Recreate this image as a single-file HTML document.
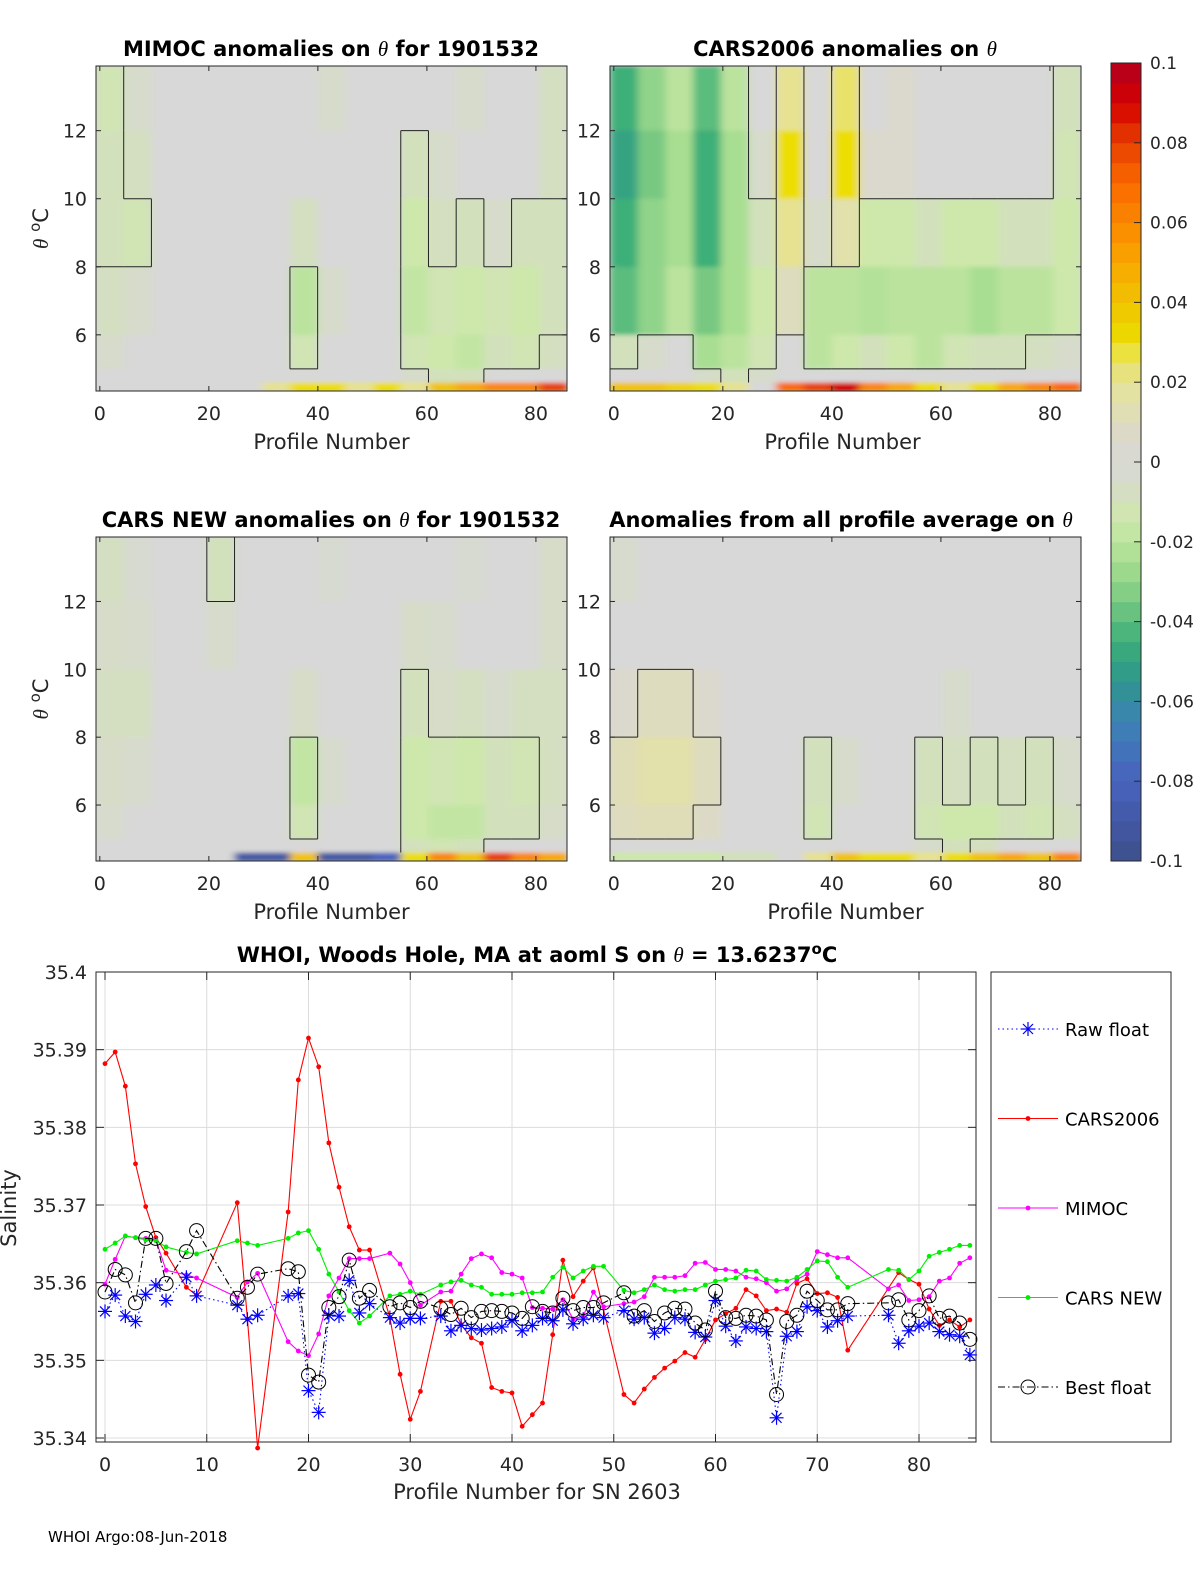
<!DOCTYPE html>
<html><head><meta charset="utf-8">
<style>
html,body{margin:0;padding:0;background:#fff;}
svg{display:block;font-family:"DejaVu Sans","Liberation Sans",sans-serif;}
.t{font-weight:bold;font-size:21px;fill:#000;}
.tk{font-size:19px;fill:#262626;}
.lb{font-size:21px;fill:#262626;}
</style></head>
<body>
<svg id="root" width="1200" height="1575" viewBox="0 0 1200 1575" xmlns="http://www.w3.org/2000/svg">
<defs>
<filter id="blur" x="0" y="0" width="1" height="1"><feGaussianBlur stdDeviation="4 2"/></filter>
<clipPath id="cTL"><rect x="96" y="66" width="471" height="325"/></clipPath>
<clipPath id="cTR"><rect x="610" y="66" width="471" height="325"/></clipPath>
<clipPath id="cBL"><rect x="96" y="537" width="471" height="324"/></clipPath>
<clipPath id="cBR"><rect x="610" y="537" width="471" height="324"/></clipPath>
</defs>
<g id="panels"></g>
<g id="cbar"></g>
<g id="line-chart"></g>
<text x="48" y="1542" font-size="15" fill="#000">WHOI Argo:08-Jun-2018</text>
</svg>
<script>
// ---------- heatmap data (anomaly per 5-profile column x theta band) ----------
const thetaEdges = [13.9, 12, 10, 8, 6, 5, 4.6, 4.35];
const colCount = 17;
const gridTL = [
 [-0.012,-0.005,0,0,0,0,0,0,-0.005,0,0,0,0,-0.005,0,0,-0.008],
 [-0.01,-0.008,0,0,0,0,0,0,0,0,0,-0.01,-0.005,0,0,0,-0.008],
 [-0.01,-0.012,0,0,0,0,0,-0.008,0,0,0,-0.015,-0.008,-0.01,-0.005,-0.01,-0.01],
 [-0.008,-0.005,0,0,0,0,0,-0.02,-0.005,0,0,-0.018,-0.012,-0.015,-0.012,-0.015,-0.01],
 [-0.005,0,0,0,0,0,0,-0.012,0,0,0,-0.012,-0.015,-0.018,-0.01,-0.012,-0.008],
 [0,0,0,0,0,0,0,0,0,0,0,-0.005,-0.01,-0.01,0,0,0],
 [0,0,0,0,0,0,0.02,0.03,0.03,0.02,0.03,0.02,0.04,0.05,0.06,0.06,0.08]
];
const gridTR = [
 [-0.045,-0.03,-0.02,-0.04,-0.02,0,0.02,0,0.025,0,0.005,0,0,0,0,0,-0.01],
 [-0.05,-0.035,-0.025,-0.045,-0.025,-0.005,0.03,0,0.03,0.005,0.005,0,0,0,0,0,-0.012],
 [-0.045,-0.03,-0.025,-0.045,-0.025,-0.01,0.02,-0.005,0.015,-0.015,-0.015,-0.01,-0.015,-0.015,-0.01,-0.01,-0.015],
 [-0.04,-0.03,-0.02,-0.035,-0.025,-0.015,0.01,-0.02,-0.02,-0.022,-0.02,-0.02,-0.02,-0.025,-0.02,-0.02,-0.015],
 [-0.01,-0.005,0,-0.025,-0.02,-0.012,0,-0.02,-0.015,-0.01,-0.015,-0.02,-0.012,-0.01,-0.01,-0.008,-0.005],
 [0,0,0,-0.005,-0.01,-0.005,0,0,0,0,0,0,0,0,0,0,0],
 [0.04,0.04,0.035,0.03,0.02,0,0.07,0.08,0.09,0.06,0.05,0.03,0.02,0.03,0.05,0.06,0.07]
];
const gridBL = [
 [-0.008,-0.003,0,0,-0.01,0,0,0,-0.003,0,0,0,0,-0.003,0,0,-0.006],
 [-0.006,-0.005,0,0,-0.005,0,0,0,0,0,0,-0.006,-0.004,0,0,0,-0.006],
 [-0.008,-0.008,0,0,0,0,0,-0.006,0,0,0,-0.01,-0.006,-0.008,-0.004,-0.008,-0.008],
 [-0.006,-0.004,0,0,0,0,0,-0.018,-0.004,0,0,-0.015,-0.012,-0.015,-0.01,-0.012,-0.008],
 [-0.004,0,0,0,0,0,0,-0.012,0,0,0,-0.015,-0.018,-0.018,-0.01,-0.01,-0.006],
 [0,0,0,0,0,0,0,0,0,0,0,-0.01,-0.012,-0.01,0,0,0],
 [0,0,0,0,0,-0.09,-0.09,0.04,-0.09,-0.09,-0.08,0.03,0.06,0.04,0.08,0.06,0.05]
];
const gridBR = [
 [-0.004,0,0,0,0,0,0,0,0,0,0,0,0,0,0,0,0],
 [0,0,0,0,0,0,0,0,0,0,0,0,0,0,0,0,0],
 [0.005,0.01,0.01,0.005,0,0,0,0,0,0,0,0,-0.005,0,0,0,0],
 [0.012,0.015,0.015,0.01,0,0,0,-0.01,-0.005,0,0,-0.01,-0.008,-0.01,-0.008,-0.01,-0.005],
 [0.01,0.012,0.012,0.008,0,0,0,-0.012,0,0,0,-0.012,-0.015,-0.015,-0.01,-0.012,-0.008],
 [0,0,0,0,0,0,0,0,0,0,0,-0.005,-0.01,-0.008,0,0,0],
 [-0.015,-0.015,-0.015,-0.015,-0.01,-0.01,0,0.02,0.04,0.03,0.03,0.02,0.03,0.04,0.05,0.04,0.06]
];
const cbarTicks = [-0.1,-0.08,-0.06,-0.04,-0.02,0,0.02,0.04,0.06,0.08,0.1];
const cbarLabels = ["-0.1","-0.08","-0.06","-0.04","-0.02","0","0.02","0.04","0.06","0.08","0.1"];
const panelXTicks = [0,20,40,60,80];
const panelYTicks = [6,8,10,12];

// ---------- line chart data ----------
const profiles = [0,1,2,3,4,5,6,8,9,13,14,15,18,19,20,21,22,23,24,25,26,28,29,30,31,33,34,35,36,37,38,39,40,41,42,43,44,45,46,47,48,49,51,52,53,54,55,56,57,58,59,60,61,62,63,64,65,66,67,68,69,70,71,72,73,77,78,79,80,81,82,83,84,85];
const cars2006 = [35.3882,35.3897,35.3853,35.3753,35.3698,35.3658,35.3638,35.3594,35.3584,35.3703,35.3553,35.3387,35.3691,35.3861,35.3915,35.3878,35.3780,35.3723,35.3672,35.3642,35.3642,35.3555,35.3482,35.3424,35.3460,35.3576,35.3576,35.3546,35.3529,35.3522,35.3465,35.3460,35.3458,35.3415,35.3430,35.3445,35.3533,35.3629,35.3582,35.3602,35.3619,null,35.3456,35.3445,35.3463,35.3478,35.3490,35.3499,35.3510,35.3504,35.3527,35.3552,35.3560,35.3567,35.3591,35.3583,35.3564,35.3566,35.3562,35.3599,35.3605,35.3586,35.3587,35.3581,35.3513,null,35.3613,35.3604,35.3598,35.3566,35.3545,35.3552,35.3543,35.3552];
const carsNew = [35.3643,35.3651,35.3660,35.3658,35.3655,35.3654,35.3646,35.3639,35.3637,35.3654,35.3651,35.3648,35.3657,35.3664,35.3667,35.3643,35.3611,35.3588,35.3564,35.3548,35.3557,35.3583,35.3585,35.3589,35.3585,35.3597,35.3601,35.3603,35.3597,35.3594,35.3585,35.3585,35.3585,35.3587,35.3587,35.3588,35.3607,35.3620,35.3606,35.3615,35.3621,35.3621,35.3590,35.3587,35.3591,35.3597,35.3591,35.3589,35.3591,35.3591,35.3597,35.3602,35.3604,35.3606,35.3616,35.3615,35.3604,35.3603,35.3602,35.3607,35.3617,35.3628,35.3627,35.3607,35.3594,35.3617,35.3616,35.3604,35.3615,35.3634,35.3639,35.3643,35.3648,35.3648];
const mimoc = [35.3598,35.3630,35.3660,35.3658,35.3657,35.3655,35.3616,35.3610,35.3606,35.3581,35.3601,35.3612,35.3524,35.3512,35.3506,35.3534,35.3583,35.3606,35.3631,35.3631,35.3631,35.3638,35.3624,35.3600,35.3571,35.3588,35.3589,35.3611,35.3631,35.3637,35.3632,35.3613,35.3611,35.3606,35.3568,35.3567,35.3566,35.3578,35.3553,35.3557,35.3588,35.3569,35.3573,35.3575,35.3582,35.3607,35.3607,35.3607,35.3609,35.3625,35.3626,35.3617,35.3617,35.3615,35.3607,35.3605,35.3600,35.3589,35.3592,35.3604,35.3611,35.3640,35.3636,35.3632,35.3632,35.3592,35.3597,35.3577,35.3578,35.3582,35.3602,35.3606,35.3625,35.3632];
const bestFloat = [35.3588,35.3617,35.3610,35.3574,35.3657,35.3657,35.3599,35.3640,35.3667,35.3580,35.3594,35.3611,35.3618,35.3614,35.3481,35.3472,35.3568,35.3582,35.3629,35.3580,35.3590,35.3569,35.3574,35.3568,35.3576,35.3567,35.3559,35.3567,35.3555,35.3563,35.3564,35.3563,35.3561,35.3554,35.3569,35.3563,35.3561,35.3580,35.3564,35.3568,35.3568,35.3574,35.3587,35.3557,35.3564,35.3550,35.3561,35.3567,35.3566,35.3548,35.3539,35.3589,35.3555,35.3554,35.3558,35.3557,35.3552,35.3456,35.3550,35.3558,35.3589,35.3577,35.3565,35.3565,35.3573,35.3574,35.3578,35.3552,35.3564,35.3583,35.3554,35.3557,35.3548,35.3527];
const rawFloat = [35.3563,35.3584,35.3557,35.3550,35.3585,35.3597,35.3577,35.3607,35.3583,35.3571,35.3553,35.3558,35.3583,35.3586,35.3461,35.3433,35.3558,35.3557,35.3603,35.3561,35.3573,35.3555,35.3548,35.3554,35.3554,35.3557,35.3538,35.3545,35.3541,35.3539,35.3541,35.3543,35.3551,35.3538,35.3545,35.3554,35.3551,35.3565,35.3547,35.3553,35.3558,35.3555,35.3564,35.3553,35.3555,35.3535,35.3541,35.3555,35.3553,35.3536,35.3530,35.3577,35.3544,35.3525,35.3543,35.3541,35.3537,35.3426,35.3531,35.3537,35.3569,35.3564,35.3543,35.3551,35.3557,35.3558,35.3522,35.3538,35.3544,35.3548,35.3537,35.3533,35.3531,35.3507];
const xTicks = [0,10,20,30,40,50,60,70,80];
const yTicks = [35.34,35.35,35.36,35.37,35.38,35.39,35.4];
const yTickLabels = ["35.34","35.35","35.36","35.37","35.38","35.39","35.4"];
const legendNames = ["Raw float","CARS2006","MIMOC","CARS NEW","Best float"];

const NS = "http://www.w3.org/2000/svg";
function mk(tag, attrs, parent){const e=document.createElementNS(NS,tag);for(const k in attrs)e.setAttribute(k,attrs[k]);if(parent)parent.appendChild(e);return e;}

const stops=[[-0.1,[61,79,138]],[-0.08,[72,98,190]],[-0.065,[60,130,180]],[-0.055,[46,150,140]],[-0.045,[60,175,120]],[-0.035,[120,200,130]],[-0.025,[168,222,145]],[-0.015,[205,232,170]],[-0.006,[214,220,200]],[0,[216,216,216]],[0.008,[220,218,198]],[0.018,[228,226,160]],[0.026,[234,226,100]],[0.03,[236,222,0]],[0.04,[240,195,0]],[0.05,[248,168,0]],[0.06,[250,135,0]],[0.07,[250,105,0]],[0.08,[232,64,0]],[0.09,[212,0,0]],[0.1,[176,0,32]]];
function colorOf(v){v=Math.max(-0.1,Math.min(0.1,v));for(let i=1;i<stops.length;i++){if(v<=stops[i][0]){const a=stops[i-1],b=stops[i],t=(v-a[0])/(b[0]-a[0]);const c=a[1].map((x,j)=>Math.round(x+(b[1][j]-x)*t));return `rgb(${c[0]},${c[1]},${c[2]})`;}}return "rgb(176,0,32)";}
function lev(v){return v<=-0.01?-1:(v>=0.01?1:0);}

const panelsG=document.getElementById('panels');
function panel(name,grid,x0,y0,w,h,clip,title,titleX,xTickOff,showYLabel){
  const g=mk('g',{},panelsG);
  
  
  const pmin=-0.7,pmax=85.7,tmax=13.9,tmin=4.35;
  const sx=p=>x0+(p-pmin)/(pmax-pmin)*w;
  const sy=t=>y0+(tmax-t)/(tmax-tmin)*h;
  mk('rect',{x:x0,y:y0,width:w,height:h,fill:'#d8d8d8'},g);
  const cg=mk('g',{'clip-path':`url(#${clip})`},g);
  const bg=mk('g',{filter:'url(#blur)'},cg);
  const cw=(pmax-pmin)/colCount;
  for(let r=0;r<grid.length;r++){for(let c=0;c<colCount;c++){
    const xa=sx(pmin+c*cw),xb=sx(pmin+(c+1)*cw),ya=sy(thetaEdges[r]),yb=sy(thetaEdges[r+1]);
    const cell=mk('rect',{x:xa,y:ya,width:xb-xa+0.5,height:yb-ya+0.5,fill:colorOf(grid[r][c])},bg);
    
    
  }}
  // contour lines at +/-0.01 level boundaries
  const ct=mk('g',{stroke:'#222','stroke-width':1,fill:'none'},cg);
  
  
  for(let r=0;r<grid.length-1;r++){for(let c=0;c<colCount;c++){
    const xa=sx(pmin+c*cw),xb=sx(pmin+(c+1)*cw),ya=sy(thetaEdges[r]),yb=sy(thetaEdges[r+1]);
    if(c<colCount-1&&lev(grid[r][c])!==lev(grid[r][c+1]))mk('line',{x1:xb,x2:xb,y1:ya,y2:yb},ct);
    if(r<grid.length-2&&lev(grid[r][c])!==lev(grid[r+1][c]))mk('line',{x1:xa,x2:xb,y1:yb,y2:yb},ct);
  }}
  mk('rect',{x:x0,y:y0,width:w,height:h,fill:'none',stroke:'#262626','stroke-width':1},g);
  panelXTicks.forEach(p=>{const x=sx(p);mk('line',{x1:x,x2:x,y1:y0+h,y2:y0+h-5,stroke:'#262626'},g);mk('line',{x1:x,x2:x,y1:y0,y2:y0+5,stroke:'#262626'},g);
    const t=mk('text',{x:x,y:y0+h+29,'text-anchor':'middle',class:'tk'},g);t.textContent=p;});
  panelYTicks.forEach(v=>{const y=sy(v);mk('line',{x1:x0,x2:x0+5,y1:y,y2:y,stroke:'#262626'},g);mk('line',{x1:x0+w,x2:x0+w-5,y1:y,y2:y,stroke:'#262626'},g);
    const t=mk('text',{x:x0-9,y:y+7,'text-anchor':'end',class:'tk'},g);t.textContent=v;});
  const xl=mk('text',{x:x0+w/2+xTickOff,y:y0+h+58,'text-anchor':'middle',class:'lb'},g);xl.textContent='Profile Number';
  
  const tt=mk('text',{x:titleX,y:y0-10,'text-anchor':'middle',class:'t'},g);tt.innerHTML=title;
  
  if(showYLabel){const yl=mk('text',{x:0,y:0,transform:`translate(48,${y0+h/2}) rotate(-90)`,'text-anchor':'middle',class:'lb'},g);
    yl.innerHTML='<tspan font-style="italic" font-family="Liberation Serif,serif">θ</tspan> <tspan dy="-8" font-size="15">o</tspan><tspan dy="8">C</tspan>';
    }
}
const th='<tspan font-style="italic" font-weight="normal" font-family="Liberation Serif,serif">θ</tspan>';
panel('mimoc-anomaly-panel',gridTL,96,66,471,325,'cTL','MIMOC anomalies on '+th+'  for 1901532',331,0,true);
panel('cars2006-anomaly-panel',gridTR,610,66,471,325,'cTR','CARS2006 anomalies on '+th,845,-3,false);
panel('cars-new-anomaly-panel',gridBL,96,537,471,324,'cBL','CARS NEW anomalies on '+th+' for 1901532',331,0,true);
panel('all-profile-anomaly-panel',gridBR,610,537,471,324,'cBR','Anomalies from all profile average on '+th,841,0,false);

// colorbar
const cb=document.getElementById('cbar');
const cy=v=>861-(v+0.1)/0.2*798;
for(let i=0;i<40;i++){const v0=-0.1+i*0.005;const r=mk('rect',{x:1111,y:cy(v0+0.005),width:30,height:798/40+0.5,fill:colorOf(v0+0.0025)},cb);
  }
mk('rect',{x:1111,y:63,width:30,height:798,fill:'none',stroke:'#262626'},cb);
cbarTicks.forEach((v,i)=>{const y=cy(v);mk('line',{x1:1141,x2:1134,y1:y,y2:y,stroke:'#262626'},cb);
  const t=mk('text',{x:1150,y:y+6,'font-size':17,fill:'#262626'},cb);t.textContent=cbarLabels[i];});

// line chart
const L=document.getElementById('line-chart');
const X0=96,X1=976,Y0=972,Y1=1442;
const xs=p=>105+p*10.175;
const ys=v=>972+(35.4-v)*7766.7;
xTicks.forEach(p=>{const x=xs(p);mk('line',{x1:x,x2:x,y1:Y0,y2:Y1,stroke:'#dcdcdc'},L);});
yTicks.forEach(v=>{const y=ys(v);mk('line',{x1:X0,x2:X1,y1:y,y2:y,stroke:'#dcdcdc'},L);});
mk('rect',{x:X0,y:Y0,width:X1-X0,height:Y1-Y0,fill:'none',stroke:'#262626'},L);
xTicks.forEach(p=>{const x=xs(p);mk('line',{x1:x,x2:x,y1:Y1,y2:Y1-8,stroke:'#262626'},L);mk('line',{x1:x,x2:x,y1:Y0,y2:Y0+8,stroke:'#262626'},L);
  const t=mk('text',{x:x,y:1471,'text-anchor':'middle',class:'tk'},L);t.textContent=p;});
yTicks.forEach((v,i)=>{const y=ys(v);mk('line',{x1:X0,x2:X0+8,y1:y,y2:y,stroke:'#262626'},L);mk('line',{x1:X1,x2:X1-8,y1:y,y2:y,stroke:'#262626'},L);
  const t=mk('text',{x:87,y:y+7,'text-anchor':'end',class:'tk'},L);t.textContent=yTickLabels[i];});
const tl=mk('text',{x:537,y:962,'text-anchor':'middle',class:'t'},L);
tl.innerHTML='WHOI, Woods Hole, MA at aoml S on '+th+' = 13.6237<tspan dy="-8" font-size="15">o</tspan><tspan dy="8">C</tspan>';

const xt=mk('text',{x:537,y:1499,'text-anchor':'middle',class:'lb'},L);xt.textContent='Profile Number for SN 2603';

const yt=mk('text',{x:0,y:0,transform:'translate(16,1208) rotate(-90)','text-anchor':'middle',class:'lb'},L);yt.textContent='Salinity';


function pts(vals){const a=[];vals.forEach((v,i)=>{if(v!==null)a.push([xs(profiles[i]),ys(v)]);});return a;}
function star(g,x,y,c){const s=7,d=5;[[x-s,y,x+s,y],[x,y-s,x,y+s],[x-d,y-d,x+d,y+d],[x-d,y+d,x+d,y-d]].forEach(q=>mk('line',{x1:q[0],y1:q[1],x2:q[2],y2:q[3],stroke:c,'stroke-width':1.2},g));}
const series=[
 {name:'cars2006-series',vals:cars2006,color:'#ff0000',dash:'',marker:'dot'},
 {name:'mimoc-series',vals:mimoc,color:'#ff00ff',dash:'',marker:'dot'},
 {name:'cars-new-series',vals:carsNew,color:'#00ee00',dash:'',marker:'dot'},
 {name:'raw-float-series',vals:rawFloat,color:'#0000ff',dash:'1.5 3',marker:'star'},
 {name:'best-float-series',vals:bestFloat,color:'#000000',dash:'7 3 1.5 3',marker:'circle'}
];
series.forEach(s=>{
  const g=mk('g',{},L);
  
  
  const p=pts(s.vals);
  const pl=mk('polyline',{points:p.map(q=>q.join(',')).join(' '),fill:'none',stroke:s.color,'stroke-width':1.1,'stroke-dasharray':s.dash},g);
  
  
  p.forEach(q=>{
    if(s.marker==='dot')mk('circle',{cx:q[0],cy:q[1],r:2.4,fill:s.color},g);
    else if(s.marker==='circle')mk('circle',{cx:q[0],cy:q[1],r:7,fill:'none',stroke:'#000','stroke-width':1},g);
    else star(g,q[0],q[1],s.color);
  });
});
// legend
const lg=mk('g',{},L);


mk('rect',{x:991,y:972,width:180,height:470,fill:'#fff',stroke:'#262626'},lg);
const legStyle=[['#0000ff','1.5 3','star'],['#ff0000','','dot'],['#ff00ff','','dot'],['#00ee00','','dot'],['#000','7 3 1.5 3','circle']];
legendNames.forEach((n,i)=>{const y=1029+i*89.5;const e=mk('g',{},lg);
  
  
  mk('line',{x1:998,x2:1058,y1:y,y2:y,stroke:legStyle[i][0],'stroke-width':1.1,'stroke-dasharray':legStyle[i][1]},e);
  if(legStyle[i][2]==='star')star(e,1028,y,legStyle[i][0]);else if(legStyle[i][2]==='dot')mk('circle',{cx:1028,cy:y,r:2.4,fill:legStyle[i][0]},e);else mk('circle',{cx:1028,cy:y,r:7,fill:'none',stroke:'#000'},e);
  const t=mk('text',{x:1065,y:y+7,'font-size':18,fill:'#000'},e);t.textContent=n;});
</script>
</body></html>
